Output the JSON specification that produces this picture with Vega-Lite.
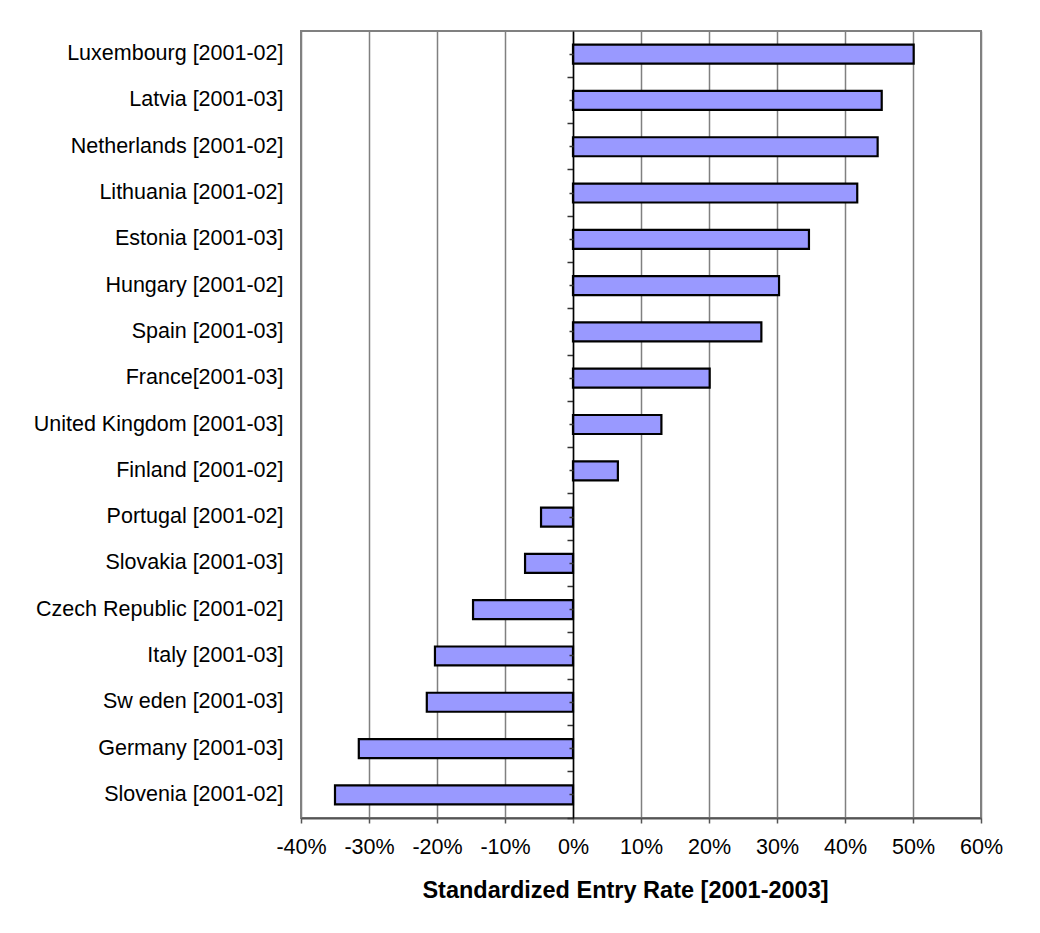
{
  "$schema": "https://vega.github.io/schema/vega-lite/v6.json",
  "width": 680,
  "height": 787,
  "autosize": {"type": "none"},
  "padding": {"left": 301, "top": 31, "right": 59, "bottom": 115},
  "background": "white",
  "config": {
    "font": "Liberation Sans",
    "view": {"stroke": "#808080", "strokeWidth": 2}
  },
  "data": {
    "values": [
      {"country": "Luxembourg [2001-02]", "rate": 0.501},
      {"country": "Latvia [2001-03]", "rate": 0.454},
      {"country": "Netherlands [2001-02]", "rate": 0.448},
      {"country": "Lithuania [2001-02]", "rate": 0.418},
      {"country": "Estonia [2001-03]", "rate": 0.347},
      {"country": "Hungary [2001-02]", "rate": 0.303},
      {"country": "Spain [2001-03]", "rate": 0.277},
      {"country": "France[2001-03]", "rate": 0.201},
      {"country": "United Kingdom [2001-03]", "rate": 0.130},
      {"country": "Finland  [2001-02]", "rate": 0.066},
      {"country": "Portugal [2001-02]", "rate": -0.047},
      {"country": "Slovakia [2001-03]", "rate": -0.0705},
      {"country": "Czech Republic [2001-02]", "rate": -0.147},
      {"country": "Italy [2001-03]", "rate": -0.203},
      {"country": "Sw eden [2001-03]", "rate": -0.215},
      {"country": "Germany [2001-03]", "rate": -0.315},
      {"country": "Slovenia [2001-02]", "rate": -0.350}
    ]
  },
  "layer": [
    {
      "mark": {"type": "bar", "fill": "#9999FF", "stroke": "#000000", "strokeWidth": 2.2},
      "encoding": {
        "y": {
          "field": "country",
          "type": "nominal",
          "sort": null,
          "scale": {"paddingInner": 0.59, "paddingOuter": 0.295},
          "axis": {
            "orient": "left",
            "title": null,
            "domain": false,
            "ticks": false,
            "labelPadding": 18,
            "labelFontSize": 21.5,
            "labelColor": "#000000",
            "labelLimit": 400
          }
        },
        "x": {
          "field": "rate",
          "type": "quantitative",
          "scale": {"domain": [-0.4, 0.6], "nice": false, "zero": false},
          "axis": {
            "values": [-0.4, -0.3, -0.2, -0.1, 0, 0.1, 0.2, 0.3, 0.4, 0.5, 0.6],
            "labelExpr": "replace(format(datum.value, '.0%'), '\u2212', '-')",
            "grid": true,
            "gridColor": "#808080",
            "gridOpacity": 1,
            "gridWidth": 1.5,
            "domainColor": "#555555",
            "domainWidth": 2,
            "tickColor": "#555555",
            "tickSize": 5,
            "tickWidth": 1.5,
            "labelFontSize": 21.5,
            "labelColor": "#000000",
            "labelPadding": 13,
            "labelFlush": false,
            "title": "Standardized Entry Rate [2001-2003]",
            "titleFontSize": 23.5,
            "titleFontWeight": "bold",
            "titleColor": "#000000",
            "titlePadding": 21,
            "titleX": 324,
            "titleAlign": "center"
          }
        }
      }
    },
    {
      "mark": {"type": "bar", "opacity": 0},
      "encoding": {
        "y": {
          "field": "country",
          "type": "nominal",
          "sort": null,
          "axis": {
            "orient": "left",
            "offset": -272,
            "title": null,
            "labels": false,
            "domain": true,
            "domainColor": "#000000",
            "domainWidth": 1.5,
            "ticks": true,
            "bandPosition": 1.72,
            "tickExtra": false,
            "tickColor": "#333333",
            "tickSize": 6,
            "tickWidth": 1.5,
            "grid": false,
            "zindex": 1
          }
        },
        "x": {"field": "rate", "type": "quantitative"}
      }
    },
    {
      "mark": {"type": "bar", "opacity": 0},
      "encoding": {
        "y": {
          "field": "country",
          "type": "nominal",
          "sort": null,
          "axis": {
            "orient": "left",
            "offset": -272,
            "title": null,
            "labels": false,
            "domain": false,
            "ticks": true,
            "tickColor": "#333333",
            "tickSize": 4,
            "tickWidth": 1.5,
            "grid": false,
            "zindex": 1
          }
        },
        "x": {"field": "rate", "type": "quantitative"}
      }
    }
  ],
  "resolve": {"axis": {"y": "independent"}}
}
